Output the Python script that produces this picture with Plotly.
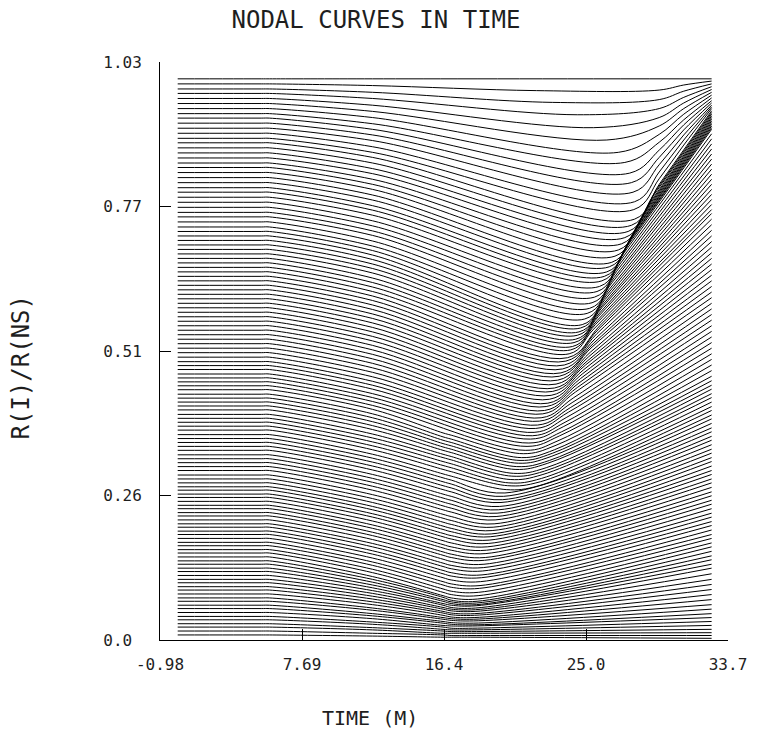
import plotly.graph_objects as go

# ---------------------------------------------------------------
# Text
# ---------------------------------------------------------------
title_text = "NODAL CURVES IN TIME"
x_title = "TIME (M)"
y_title = "R(I)/R(NS)"

x_tick_vals = [-0.98, 7.69, 16.36, 25.03, 33.7]
x_tick_text = ["-0.98", "7.69", "16.4", "25.0", "33.7"]
y_tick_vals = [0.0, 0.2575, 0.515, 0.7725, 1.03]
y_tick_text = ["0.0\u00a0", "0.26", "0.51", "0.77", "1.03"]

# ---------------------------------------------------------------
# Node trajectories, radii in thousandths of R(NS).
# Node 0 is the outermost zone, node 131 the innermost one.
# ---------------------------------------------------------------
t_flat = [0.1, 5.2, 5.7]      # nodes sit still until collapse starts
t_probe = 12.0                # early-collapse sample time
t_bounce_pre = 16.3           # just before the core bounce
t_bounce = 16.8               # core bounce
t_last = 32.7                 # final time step

node_r_start = [
    1000, 991, 982, 974, 965, 956, 947, 938, 930, 921,
    912, 903, 894, 886, 877, 868, 859, 850, 842, 833,
    824, 815, 806, 798, 789, 780, 771, 762, 754, 745,
    736, 728, 720, 712, 704, 696, 688, 680, 672, 664,
    656, 648, 640, 632, 624, 616, 608, 600, 592, 584,
    576, 568, 560, 552, 544, 536, 528, 520, 512, 504,
    496, 489, 482, 474, 467, 460, 453, 446, 438, 431,
    424, 417, 410, 402, 395, 388, 381, 374, 366, 359,
    352, 345, 338, 330, 323, 316, 309, 302, 294, 287,
    280, 273, 267, 260, 254, 247, 240, 234, 227, 221,
    214, 207, 201, 194, 188, 181, 174, 168, 161, 155,
    148, 141, 135, 128, 122, 115, 108, 102, 95, 89,
    82, 75, 69, 62, 56, 49, 42, 36, 29, 23,
    16, 9,
]

node_r_t12 = [
    1000, 988, 976, 965, 953, 942, 931, 920, 910, 900,
    890, 879, 869, 860, 850, 840, 831, 821, 812, 803,
    793, 784, 774, 766, 757, 747, 738, 729, 721, 711,
    702, 694, 686, 678, 670, 662, 654, 645, 637, 629,
    621, 613, 605, 597, 589, 581, 573, 565, 557, 549,
    541, 533, 525, 517, 509, 501, 493, 485, 477, 469,
    461, 454, 447, 439, 432, 425, 418, 411, 403, 396,
    389, 382, 375, 367, 360, 353, 346, 339, 331, 324,
    317, 310, 303, 295, 288, 281, 274, 267, 259, 252,
    245, 238, 232, 225, 219, 212, 205, 199, 192, 186,
    179, 172, 166, 159, 153, 146, 139, 133, 126, 120,
    113, 108, 103, 98, 93, 88, 83, 78, 73, 68,
    63, 57, 53, 47, 43, 38, 32, 28, 22, 18,
    12, 7,
]

# inner core (nodes 67-131) around the bounce
node_r_bounce_pre = [None] * 67 + [
    369, 362, 356, 350, 344, 338, 331, 325, 318, 311, 304, 296, 289, 282,
    275, 268, 260, 253, 246, 239, 232, 224, 217, 210, 203, 197, 190, 184,
    177, 170, 164, 157, 151, 144, 137, 131, 124, 118, 111, 104, 98, 91, 85,
    79, 76, 72, 69, 65, 62, 58, 55, 51, 48, 44, 40, 37, 33, 30, 26, 23, 19,
    16, 12, 9, 5,
]
node_r_bounce = [None] * 67 + [
    365, 358, 352, 346, 340, 334, 327, 321, 314, 307, 300, 292, 285, 278,
    271, 264, 256, 249, 242, 235, 228, 220, 213, 206, 199, 193, 186, 180,
    173, 166, 160, 153, 147, 140, 133, 127, 120, 114, 107, 100, 94, 87, 81,
    75, 71, 68, 65, 62, 58, 55, 52, 48, 45, 41, 38, 35, 31, 28, 25, 21, 18,
    15, 12, 8, 5,
]

# lowest point of each node
node_turn_t = [
    None,
    22.0, 23.0, 24.5, 25.5, 26.3, 27.0, 27.4, 27.7, 27.8, 27.9, 28.0, 27.95,
    28.0, 27.8, 27.6, 27.4, 27.2, 27.0, 26.8, 26.6, 26.45, 26.3, 26.15, 26.0,
    25.85, 25.7, 25.55, 25.4, 25.25, 25.1, 24.95, 24.8, 24.7, 24.6, 24.5, 24.4,
    24.3, 24.2, 24.1, 24.0,
    23.9, 23.8, 23.7, 23.6, 23.5, 23.4, 23.3, 23.2, 23.1, 23.0, 22.9, 22.8, 22.7,
    22.6, 22.5,
    22.39, 22.29, 22.18, 22.07, 21.96, 21.86, 21.75, 21.64, 21.54, 21.43, 21.32,
    21.2, 21.1, 21.0, 20.9, 20.8, 20.7, 20.6, 20.5, 20.4,
    20.32, 20.24, 20.16, 20.08, 20.0,
    19.92, 19.84, 19.76, 19.68, 19.6,
    19.54, 19.48, 19.42, 19.36, 19.3,
    19.24, 19.18, 19.12, 19.06, 19.0,
    18.96, 18.92, 18.88, 18.84, 18.8,
    18.76, 18.72, 18.68, 18.64, 18.6,
    18.56, 18.52, 18.48, 18.44, 18.4,
    18.38, 18.36, 18.34, 18.32, 18.3, 18.28, 18.26, 18.24, 18.22, 18.2,
    18.18, 18.16, 18.14, 18.12, 18.1, 18.08, 18.06, 18.04, 18.02, 18.01, 18.0,
]
node_turn_r = [
    None,
    979, 958, 936, 913, 891, 869, 851, 832, 815, 798, 781, 767,
    750, 739, 728, 717, 706, 695, 684, 673, 665, 656, 648, 640,
    630, 621, 611, 601, 591, 582, 572, 562, 556, 549, 543, 536, 530, 523, 517, 510,
    503, 497, 490, 483, 476, 470, 463, 456, 449, 443, 436, 429, 422, 416, 409,
    403, 396, 390, 383, 377, 370, 364, 358, 351, 345, 338,
    332, 325, 320, 315, 309, 304, 297, 292, 286,
    280, 275, 268, 262, 256,
    250, 245, 238, 232, 226,
    220, 214, 207, 201, 195,
    189, 184, 178, 172, 166,
    160, 154, 147, 142, 135,
    129, 123, 116, 111, 104,
    97, 92, 85, 79, 73,
    69, 66, 63, 61, 57, 54, 51, 47, 44, 40,
    37, 34, 30, 27, 25, 21, 18, 15, 12, 8, 5,
]

# a point on the climb after the turn
node_rise_t = [
    None,
    29.5, 29.5, 29.5, 29.5, 29.5, 29.5, 29.5, 29.5, 29.5, 29.5, 29.5, 29.5,
    29.5, 29.3, 29.1, 28.9, 28.7, 28.5, 28.3, 28.1, 27.95, 27.8, 27.65, 27.5,
    27.35, 27.2, 27.05, 26.9, 26.75, 26.6, 26.45, 26.3, 26.2, 26.1, 26.0, 25.9,
    25.8, 25.7, 25.6, 25.5,
    25.9, 25.8, 25.7, 25.6, 25.5, 25.4, 25.3, 25.2, 25.1, 25.0, 24.9, 24.8, 24.7,
    24.6, 24.5,
    24.39, 24.29, 24.18, 24.07, 23.96, 23.86, 23.75, 23.64, 23.54, 23.43, 23.32,
    23.2, 23.1, 23.0, 22.9, 22.8, 22.7, 22.6, 22.5, 22.4, 22.32, 22.24, 22.16,
] + [None] * 53
node_rise_r = [
    None,
    980, 963, 947, 931, 916, 901, 887, 873, 860, 847, 834, 822,
    812, 801, 790, 778, 767, 756, 745, 734, 726, 717, 709, 700,
    690, 679, 668, 657, 646, 636, 625, 615, 607, 599, 592, 584, 577, 569, 562, 554,
    561, 554, 546, 537, 529, 522, 513, 505, 497, 490, 482, 474, 466, 458, 450,
    442, 432, 423, 414, 406, 397, 388, 380, 371, 364, 355,
    347, 339, 333, 327, 320, 315, 307, 301, 295, 288, 282, 275,
] + [None] * 53

# outermost nodes: position shortly before the last step
node_late_t = [None] + [31.0] * 12 + [None] * 119
node_late_r = [None, 989, 978, 967, 957, 947, 937, 927, 918, 909, 900, 891, 882] + [None] * 119

node_r_end = [
    1000,
    996, 991, 986, 981, 976, 971, 966, 961, 957, 953, 950, 947,
    943, 940, 937, 934, 931, 928, 925, 922, 919, 916, 913, 910,
    902, 893, 884, 875, 866, 857, 848, 839, 830, 821, 812, 803, 794, 785, 776, 767,
    760, 750, 740, 730, 720, 710, 700, 690, 680, 670, 660, 650, 640, 630, 620,
    610, 600, 590, 580, 570, 560, 550, 540, 530, 520, 510, 500, 490, 480, 470,
    462, 454, 447, 439, 432, 424, 416, 409, 401, 394,
    386, 378, 371, 363, 356, 348, 340, 333, 325, 318,
    310, 302, 295, 287, 280, 272, 264, 257, 249, 242,
    234, 226, 219, 211, 204, 196, 188, 181, 173, 166,
    158, 150, 143, 135, 128, 118, 108, 99, 90, 81,
    72, 63, 55, 47, 40, 33,
    26, 19, 13, 8, 3,
]

# ---------------------------------------------------------------
# Figure
# ---------------------------------------------------------------
fig = go.Figure()

n_nodes = len(node_r_start)
for k in range(n_nodes):
    ts = list(t_flat) + [t_probe]
    rs = [node_r_start[k]] * len(t_flat) + [node_r_t12[k]]
    if node_r_bounce[k] is not None:
        ts += [t_bounce_pre, t_bounce]
        rs += [node_r_bounce_pre[k], node_r_bounce[k]]
    for t_arr, r_arr in ((node_turn_t, node_turn_r),
                         (node_rise_t, node_rise_r),
                         (node_late_t, node_late_r)):
        if t_arr[k] is not None:
            ts.append(t_arr[k])
            rs.append(r_arr[k])
    ts.append(t_last)
    rs.append(node_r_end[k])
    fig.add_trace(go.Scatter(
        x=ts,
        y=[r / 1000.0 for r in rs],
        mode="lines",
        line=dict(color="black", width=1, shape="spline", smoothing=1.0),
        hoverinfo="skip",
        showlegend=False,
    ))

mono = "DejaVu Sans Mono"
ink = "#1e1e1e"

fig.update_layout(
    width=759,
    height=730,
    margin=dict(l=160, r=29, t=62, b=90),
    paper_bgcolor="white",
    plot_bgcolor="white",
    showlegend=False,
    font=dict(family=mono, color=ink),
    title=dict(
        text=title_text,
        x=376 / 759, xref="container", xanchor="center",
        y=1 - 20 / 730, yref="container", yanchor="middle",
        font=dict(family=mono, size=24, color=ink),
    ),
    xaxis=dict(
        range=[-0.98, 33.7],
        showgrid=False, zeroline=False,
        showline=True, linecolor="black", linewidth=1,
        ticks="inside", ticklen=11, tickwidth=1, tickcolor="black",
        tickmode="array", tickvals=x_tick_vals, ticktext=x_tick_text,
        tickfont=dict(family=mono, size=16, color=ink),
        ticklabelstandoff=10,
    ),
    yaxis=dict(
        range=[0, 1.03],
        showgrid=False, zeroline=False,
        showline=True, linecolor="black", linewidth=1,
        ticks="inside", ticklen=11, tickwidth=1, tickcolor="black",
        tickmode="array", tickvals=y_tick_vals, ticktext=y_tick_text,
        tickfont=dict(family=mono, size=16, color=ink),
        ticklabelstandoff=14,
    ),
    annotations=[
        dict(text=x_title, xref="paper", yref="paper",
             x=(371 - 160) / 570, y=(640 - 718) / 578,
             xanchor="center", yanchor="middle", showarrow=False,
             font=dict(family=mono, size=20, color=ink)),
        dict(text=y_title, xref="paper", yref="paper",
             x=(21 - 160) / 570, y=(640 - 367) / 578,
             xanchor="center", yanchor="middle", showarrow=False,
             textangle=-90,
             font=dict(family=mono, size=24, color=ink)),
    ],
)

fig.write_html("out.html")
